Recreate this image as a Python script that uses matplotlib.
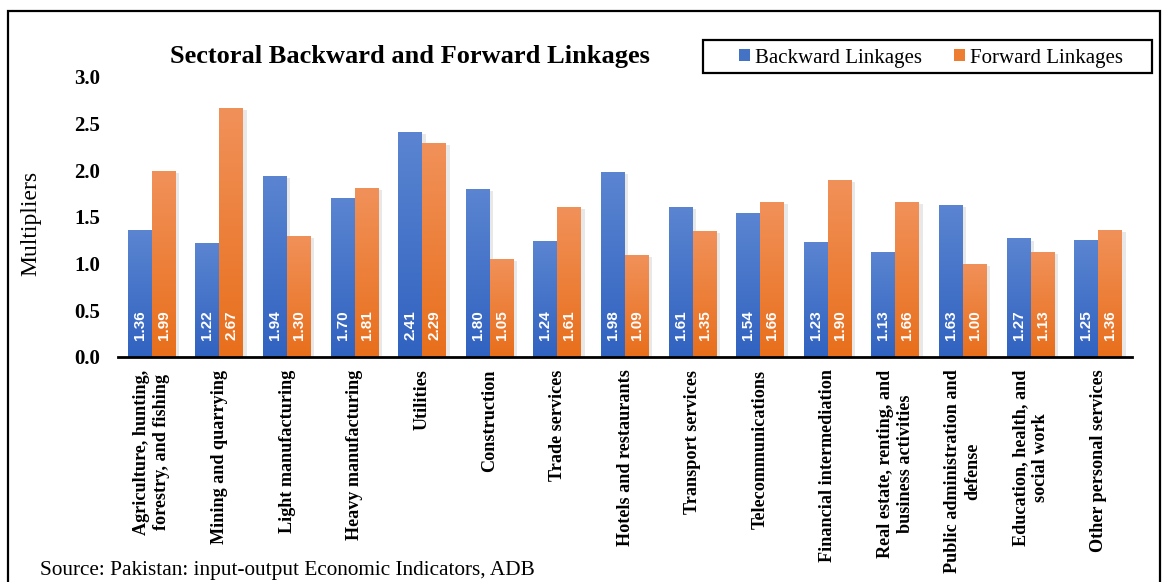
import matplotlib
matplotlib.use("Agg")
import matplotlib.pyplot as plt
import numpy as np
from matplotlib.patches import Rectangle, Patch
from matplotlib.colors import LinearSegmentedColormap
import matplotlib.patheffects as pe

sectors = [
    "Agriculture, hunting,\nforestry, and fishing",
    "Mining and quarrying",
    "Light manufacturing",
    "Heavy manufacturing",
    "Utilities",
    "Construction",
    "Trade services",
    "Hotels and restaurants",
    "Transport services",
    "Telecommunications",
    "Financial intermediation",
    "Real estate, renting, and\nbusiness activities",
    "Public administration and\ndefense",
    "Education, health, and\nsocial work",
    "Other personal services",
]
backward = [1.36, 1.22, 1.94, 1.70, 2.41, 1.80, 1.24, 1.98, 1.61, 1.54, 1.23, 1.13, 1.63, 1.27, 1.25]
forward = [1.99, 2.67, 1.30, 1.81, 2.29, 1.05, 1.61, 1.09, 1.35, 1.66, 1.90, 1.66, 1.00, 1.13, 1.36]
yticks = [0.0, 0.5, 1.0, 1.5, 2.0, 2.5, 3.0]

serif = ["Liberation Serif", "DejaVu Serif"]
sans = ["Liberation Sans", "DejaVu Sans"]

W, H = 1164, 582
fig = plt.figure(figsize=(W / 100, H / 100), dpi=100)
ax = fig.add_axes([118 / W, 1 - 357 / H, (1132 - 118) / W, (357 - 77) / H])

x = np.arange(len(sectors))
bw = 0.355
blue_cmap = LinearSegmentedColormap.from_list("b", ["#5B85D1", "#3062C0"])
orange_cmap = LinearSegmentedColormap.from_list("o", ["#F1915A", "#E86F1B"])

shadow = [pe.SimplePatchShadow(offset=(2.5, -1.5), shadow_rgbFace="#999999", alpha=0.22), pe.Normal()]
b1 = ax.bar(x - bw / 2, backward, bw, color="#4472C4", zorder=2)
b2 = ax.bar(x + bw / 2, forward, bw, color="#ED7D31", zorder=2)

grad = np.linspace(0, 1, 256).reshape(-1, 1)
for bars, cmap in ((b1, blue_cmap), (b2, orange_cmap)):
    for r in bars:
        r.set_path_effects(shadow)
        x0, y0 = r.get_x(), r.get_y()
        w, h = r.get_width(), r.get_height()
        im = ax.imshow(grad, cmap=cmap, aspect="auto", extent=(x0, x0 + w, y0, y0 + h),
                       origin="upper", zorder=2.5)
        im.set_clip_path(r)

for bars, vals in ((b1, backward), (b2, forward)):
    for r, v in zip(bars, vals):
        ax.annotate(f"{v:.2f}", (r.get_x() + r.get_width() / 2, 0), xytext=(0, 12),
                    textcoords="offset points", rotation=90, ha="center", va="bottom",
                    color="white", fontsize=11, fontweight="bold", family=sans, zorder=4)

ax.set_xlim(-0.5, len(sectors) - 0.5)
ax.set_ylim(0, 3.0)
ax.set_yticks(yticks)
ax.set_yticklabels([f"{t:.1f}" for t in yticks], fontsize=15, fontweight="bold", family=serif)
ax.set_xticks(x)
ax.set_xticklabels(sectors, rotation=90, fontsize=13.1, fontweight="bold", family=serif,
                   multialignment="center", linespacing=1.25)
ax.tick_params(axis="y", length=0, pad=13)
ax.tick_params(axis="x", length=0, pad=9)
for s in ("left", "right", "top"):
    ax.spines[s].set_visible(False)
ax.spines["bottom"].set_linewidth(2)
ax.spines["bottom"].set_zorder(5)

fig.text(41 / W, 1 - 223 / H, "Multipliers", rotation=90, ha="right", va="center",
         fontsize=17, family=serif)

fig.text(410 / W, 1 - 56 / H, "Sectoral Backward and Forward Linkages", ha="center", va="center",
         fontsize=19, fontweight="bold", family=serif)

handles = [Patch(facecolor="#4472C4", label="Backward Linkages"),
           Patch(facecolor="#ED7D31", label="Forward Linkages")]
leg = fig.legend(handles=handles, loc="center", bbox_to_anchor=(931 / W, 1 - 58 / H), ncol=2,
                 frameon=False, prop={"family": serif, "size": 15}, handlelength=0.55,
                 handleheight=0.55, handletextpad=0.25, columnspacing=1.5, borderpad=0)
fig.patches.append(Rectangle((703 / W, 1 - 73 / H), (1152 - 703) / W, (73 - 40) / H,
                             transform=fig.transFigure, fill=False, edgecolor="black", linewidth=1.6))

fig.text(40 / W, 1 - 571 / H, "Source: Pakistan: input-output Economic Indicators, ADB",
         ha="left", va="center", fontsize=15.3, family=serif)

fig.patches.append(Rectangle((8 / W, -0.05), (1160 - 8) / W, 1.05 - 11 / H,
                             transform=fig.transFigure, fill=False, edgecolor="black", linewidth=1.6))

fig.savefig("out.png", dpi=100)
